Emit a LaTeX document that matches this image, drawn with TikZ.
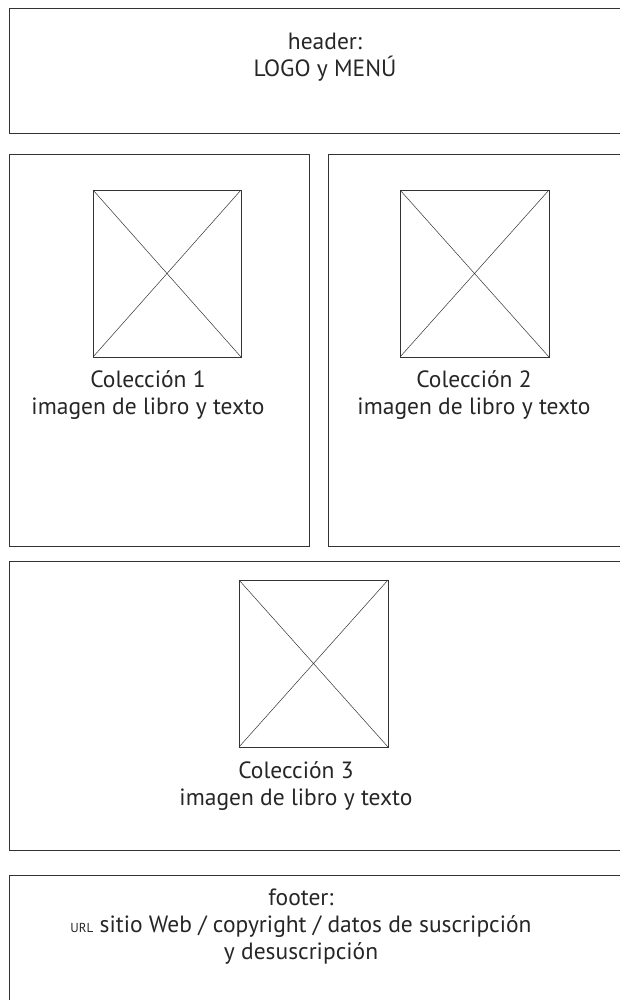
\documentclass[tikz,border=0pt]{standalone}
\usepackage{fontspec}
\setmainfont{PT Sans}
\begin{document}
\begin{tikzpicture}[x=1pt,y=-1pt,
  frame/.style={draw=black!80,line width=1pt},
  pic/.style={draw=black!80,line width=0.8pt},
  cross/.style={draw=black!80,line width=0.5pt},
  lbl/.style={align=center,font=\fontsize{23.5}{27}\selectfont,text=black!85,inner sep=0pt}]
\useasboundingbox (0,0) rectangle (620,1000);
\begin{scope}
\clip (0,0) rectangle (620,1000);
% header
\draw[frame] (9,9) rectangle (640,134);
\node[lbl] (hdr) at (325,57) {header:\\LOGO y MENÚ};
% collection 1
\draw[frame] (9,155) rectangle (309,546);
\draw[pic] (93,190) rectangle (241,357);
\draw[cross] (93,190) -- (241,357) (93,357) -- (241,190);
\node[lbl] (c1) at (148,395) {Colección 1\\imagen de libro y texto};
% collection 2
\draw[frame] (328,155) rectangle (640,546);
\draw[pic] (400,190) rectangle (549,357);
\draw[cross] (400,190) -- (549,357) (400,357) -- (549,190);
\node[lbl] (c2) at (474,395) {Colección 2\\imagen de libro y texto};
% collection 3
\draw[frame] (9,561) rectangle (640,850);
\draw[pic] (239,580) rectangle (388,747);
\draw[cross] (239,580) -- (388,747) (239,747) -- (388,580);
\node[lbl] (c3) at (296,786) {Colección 3\\imagen de libro y texto};
% footer
\draw[frame] (9,875) rectangle (640,1010);
\node[lbl] (ftr) at (301,927) {footer:\\{\fontsize{13}{13}\selectfont URL} sitio Web / copyright / datos de suscripción\\y desuscripción};
\end{scope}
\end{tikzpicture}
\end{document}
